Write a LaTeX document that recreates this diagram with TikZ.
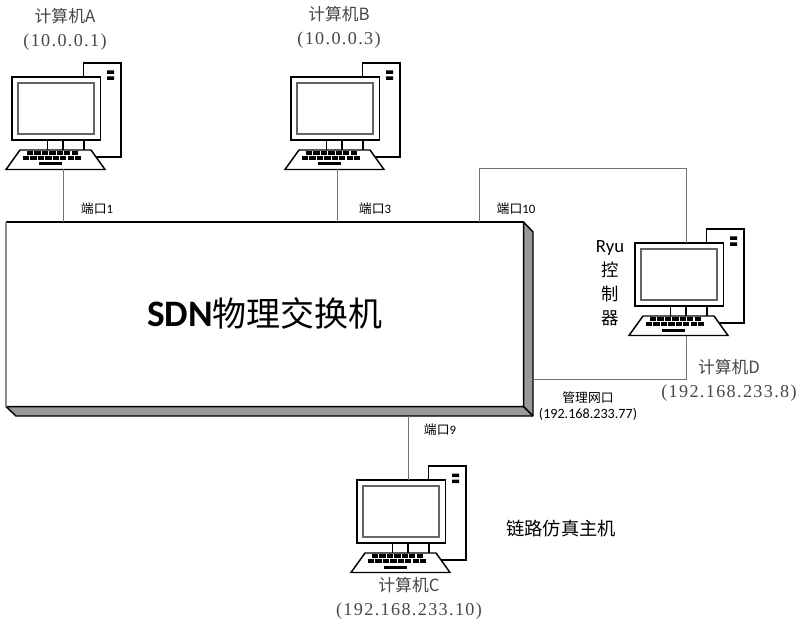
\documentclass[tikz,border=0pt]{standalone}
\usepackage{fontspec}
\setmainfont{Noto Sans CJK SC}
\newfontfamily\serifl[LetterSpace=7.5]{Liberation Serif}
\newfontfamily\carl{Carlito}
\newcommand{\addr}[1]{{\serifl\fontsize{13.6}{18}\selectfont #1}}
\tikzset{
 x=0.75pt,y=-0.75pt,
 mono/.style={draw=black,line width=1.1pt,fill=white},
 link/.style={draw=black!55,line width=0.75pt},
 big/.style={font=\fontsize{12.6}{18}\selectfont,text=black!72,align=center,inner sep=0pt},
 small/.style={font=\fontsize{9.6}{12.5}\selectfont,align=center,inner sep=0pt},
 computer/.pic={
  \path[mono] (71.5,-14) rectangle (109,80);
  \path[fill=black] (95,-6.5) rectangle (102,-3) (95,-0.5) rectangle (102,3);
  \path[mono] (35.5,63) rectangle (72,74);
  \draw[black,line width=1pt] (51,63) -- (51,74);
  \path[mono] (0,0) rectangle (88.5,63);
  \path[draw=black!60,line width=1pt,fill=white] (6,6) rectangle (82,57);
  \path[mono,line join=miter] (8,73) -- (79,73) -- (93,92.5) -- (-6,92.5) -- cycle;
  \foreach \r/\a/\b in {76/15/66,81/11/70}{\draw[black,line width=2.7pt,dash pattern=on 4.6pt off 1pt] (\a,\r) -- (\b,\r);}
  \path[fill=black] (27,85.5) rectangle (50,88.5);
  \coordinate (-kb) at (51,92.5);
  \coordinate (-top) at (51,0);
 }
}
\begin{document}
\begin{tikzpicture}
\useasboundingbox (0,0) rectangle (800,624);
\pic (a) at (12,77) {computer};
\pic (b) at (291,77) {computer};
\pic (d) at (635,243) {computer};
\pic (c) at (357,480) {computer};
\node[fill=white,minimum width=387.75pt,minimum height=138pt,inner sep=0pt,anchor=north west] (sw) at (6,222) {};
\path[draw=black,line width=1.1pt,fill=black!40,line join=round] (sw.north east) -- (533,232) -- (533,416) -- (16,416) -- (sw.south west) -- (sw.south east) -- cycle;
\draw[black,line width=1.1pt] (sw.south east) -- (533,416);
\draw[black,line width=1pt] (sw.south east) -- (sw.north east) -- (sw.north west);
\draw[black!45,line width=1pt] (sw.north west) -- (sw.south west);
\node[font=\fontsize{25.5}{30}\selectfont,inner sep=0pt] (title) at (265,313) {{\carl\fontsize{28}{30}\selectfont\bfseries SDN}物理交换机};
\coordinate (ka) at (a-kb);
\coordinate (kb) at (337,169.5);
\coordinate (swa) at (ka |- sw.north);
\coordinate (swb) at (kb |- sw.north);
\coordinate (swp) at (479,222);
\coordinate (t1) at (479,169);
\coordinate (t2) at (d-top |- t1);
\coordinate (swm) at (533,379.5);
\coordinate (m1) at (d-kb |- swm);
\coordinate (swc) at (c-top |- 0,416);
\draw[link] (ka) -- (swa);
\draw[link] (kb) -- (swb);
\draw[link] (swp) -- (t1) -- (t2) -- (d-top);
\draw[link] (swm) -- (m1) -- (d-kb);
\draw[link] (swc) -- (c-top);
\node[big] (la) at (65,29) {计算机A\\\addr{(10.0.0.1)}};
\node[big] (lb) at (339,27) {计算机B\\\addr{(10.0.0.3)}};
\node[big] (ld) at (729,380) {计算机D\\\addr{(192.168.233.8)}};
\node[big] (lc) at (409,598) {计算机C\\\addr{(192.168.233.10)}};
\node[small] (p1) at (97,209) {端口{\carl 1}};
\node[small] (p3) at (375,209) {端口{\carl 3}};
\node[small] (p10) at (516,209) {端口{\carl 10}};
\node[small] (p9) at (440,430) {端口{\carl 9}};
\node[small] (pm) at (588,406) {管理网口\\{\carl\fontsize{10.6}{10}\selectfont (192.168.233.77)}};
\node[inner sep=0pt,align=center,font=\fontsize{13}{18}\selectfont] (ry) at (610,283) {{\carl\fontsize{14}{18}\selectfont Ryu}\\控\\制\\器};
\node[inner sep=0pt,font=\fontsize{13.7}{16}\selectfont] (lk) at (561,529) {链路仿真主机};
\end{tikzpicture}
\end{document}
